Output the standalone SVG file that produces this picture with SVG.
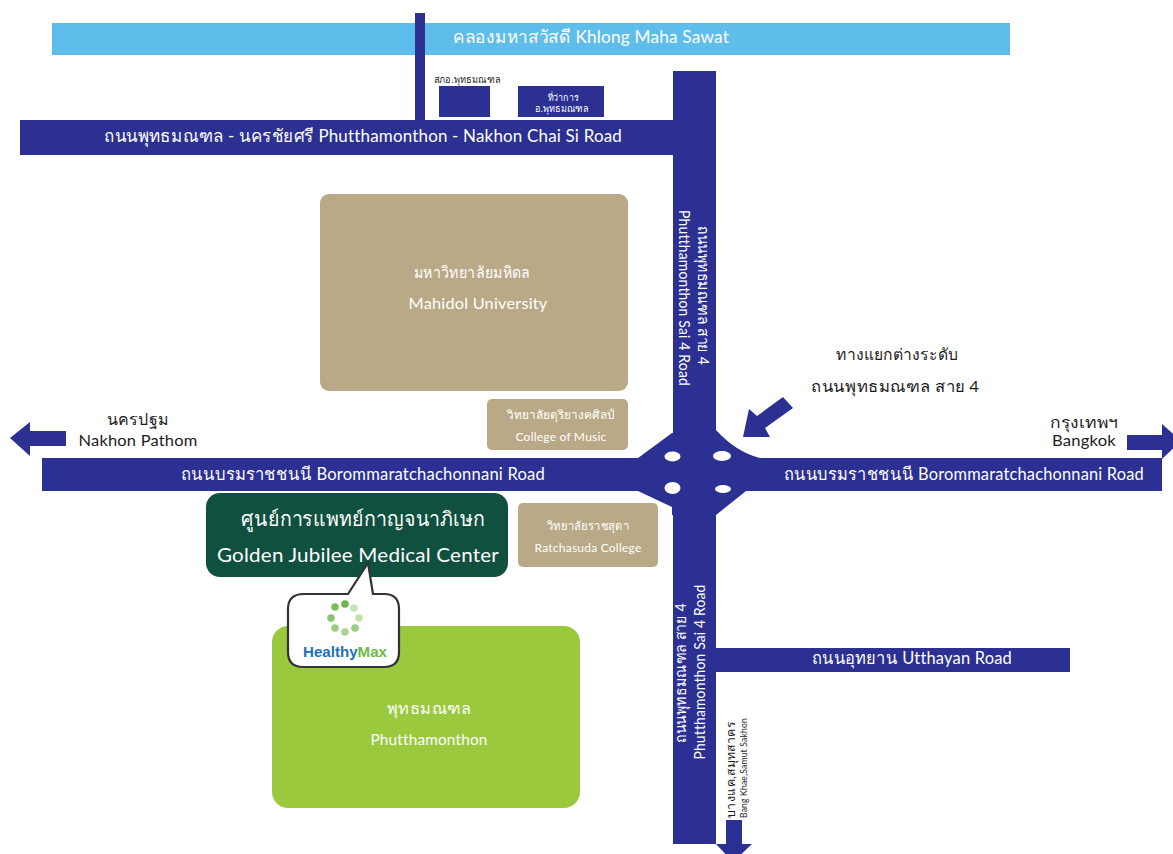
<svg xmlns="http://www.w3.org/2000/svg" width="1173" height="854" viewBox="0 0 1173 854">
<style>
text{font-family:"Lato","Noto Sans",sans-serif;text-anchor:middle;fill:#fff;letter-spacing:.2px}
.road{fill:#2b3092}
.tan{fill:#b9a986}
.k{fill:#1c1c1c}
</style>
<rect width="1173" height="854" fill="#fff"/>
<g id="canal"><rect x="52" y="23" width="958" height="32" fill="#5fbdec"/>
<text x="591" y="43" font-size="18" textLength="276" lengthAdjust="spacingAndGlyphs">คลองมหาสวัสดี Khlong Maha Sawat</text></g>
<g id="connectors">
<rect class="road" x="415" y="13" width="10" height="110"/>
<rect class="road" x="20" y="120" width="655" height="35"/>
<rect class="road" x="673" y="71" width="43" height="773"/>
<rect class="road" x="42" y="458" width="1120" height="33"/>
<rect class="road" x="716" y="648" width="354" height="24"/>
<path class="road" d="M638 458L672 433L716 430Q736 452 760 458V491H746L716 515H672V507L638 491Z"/>
<ellipse cx="672.500" cy="456.500" rx="8" ry="5" fill="#fff"/>
<ellipse cx="722" cy="456" rx="9" ry="5" fill="#fff"/>
<ellipse cx="672.500" cy="488" rx="8" ry="6" fill="#fff"/>
<ellipse cx="723" cy="489" rx="8" ry="4" fill="#fff"/>
<path class="road" d="M10 438L30 422V431H66V446H30V456Z"/>
<path class="road" d="M1127 435H1162V424L1181 441L1162 459V450H1127Z"/>
<path class="road" d="M743 437L749 409L757 416L783 397L793 408L765 428L770 437Z"/>
<path class="road" d="M726 820H742V844H752L733 862L716 844H726Z"/>
</g>
<g id="road-labels">
<text x="363" y="142" font-size="18" textLength="518" lengthAdjust="spacingAndGlyphs">ถนนพุทธมณฑล - นครชัยศรี Phutthamonthon - Nakhon Chai Si Road</text>
<text x="363" y="480" font-size="17" textLength="364" lengthAdjust="spacingAndGlyphs">ถนนบรมราชชนนี  Borommaratchachonnani Road</text>
<text x="964" y="480" font-size="17" textLength="360" lengthAdjust="spacingAndGlyphs">ถนนบรมราชชนนี Borommaratchachonnani Road</text>
<text x="912" y="664" font-size="17" textLength="200" lengthAdjust="spacingAndGlyphs">ถนนอุทยาน Utthayan Road</text>
<text transform="translate(698 295.500) rotate(90)" font-size="15" textLength="139" lengthAdjust="spacingAndGlyphs">ถนนพุทธมณฑล สาย 4</text>
<text transform="translate(679 298) rotate(90)" font-size="15" textLength="176" lengthAdjust="spacingAndGlyphs">Phutthamonthon Sai 4 Road</text>
<text transform="translate(686 673) rotate(-90)" font-size="15" textLength="140" lengthAdjust="spacingAndGlyphs">ถนนพุทธมณฑล สาย 4</text>
<text transform="translate(705 672) rotate(-90)" font-size="15" textLength="175" lengthAdjust="spacingAndGlyphs">Phutthamonthon Sai 4 Road</text>
<text class="k" transform="translate(735 770) rotate(-90)" font-size="12" textLength="96" lengthAdjust="spacingAndGlyphs">บางแค,สมุทสาคร</text>
<text class="k" transform="translate(747 768) rotate(-90)" font-size="9" textLength="100" lengthAdjust="spacingAndGlyphs">Bang Khae,Samut Sakhon</text>
</g>
<g id="sao"><rect class="road" x="439" y="86" width="51" height="31"/>
<text class="k" x="467" y="83" font-size="9.500" textLength="67" lengthAdjust="spacingAndGlyphs">สภอ.พุทธมณฑล</text></g>
<g id="district"><rect class="road" x="518" y="86" width="86" height="31"/>
<text x="563" y="101" font-size="9.500" textLength="31" lengthAdjust="spacingAndGlyphs">ที่ว่าการ</text>
<text x="562" y="112" font-size="9.500" textLength="54" lengthAdjust="spacingAndGlyphs">อ.พุทธมณฑล</text></g>
<g id="mahidol"><rect class="tan" x="320" y="194" width="308" height="197" rx="9"/>
<text x="472" y="278" font-size="16" textLength="117" lengthAdjust="spacingAndGlyphs">มหาวิทยาลัยมหิดล</text>
<text x="478" y="309" font-size="16" textLength="139" lengthAdjust="spacingAndGlyphs">Mahidol University</text></g>
<g id="music"><rect class="tan" x="487" y="399" width="141" height="51" rx="5"/>
<text x="561" y="419" font-size="12" textLength="109" lengthAdjust="spacingAndGlyphs">วิทยาลัยดุริยางคศิลป์</text>
<text x="561" y="441" font-size="12" textLength="91" lengthAdjust="spacingAndGlyphs">College of Music</text></g>
<g id="ratchasuda"><rect class="tan" x="518" y="503" width="140" height="64" rx="5"/>
<text x="588" y="530" font-size="12" textLength="83" lengthAdjust="spacingAndGlyphs">วิทยาลัยราชสุดา</text>
<text x="588" y="552" font-size="12" textLength="107" lengthAdjust="spacingAndGlyphs">Ratchasuda College</text></g>
<g id="golden-jubilee"><rect x="206" y="493" width="302" height="84" rx="14" fill="#10503f"/>
<text x="363" y="526" font-size="20" textLength="244" lengthAdjust="spacingAndGlyphs">ศูนย์การแพทย์กาญจนาภิเษก</text>
<text x="358" y="562" font-size="20" textLength="282" lengthAdjust="spacingAndGlyphs">Golden Jubilee Medical Center</text></g>
<g id="phutthamonthon"><rect x="272" y="626" width="308" height="182" rx="16" fill="#9bc93e"/>
<text x="429" y="714" font-size="16" textLength="84" lengthAdjust="spacingAndGlyphs">พุทธมณฑล</text>
<text x="429" y="745" font-size="16" textLength="117" lengthAdjust="spacingAndGlyphs">Phutthamonthon</text></g>
<g id="healthymax">
<path d="M304 594H348L368 563L373 594H384Q399 594 399 609V652Q399 667 384 667H303Q288 667 288 652V609Q288 594 304 594Z" fill="#fff" stroke="#333" stroke-width="2.200"/>
<g>
<circle cx="345" cy="604" r="3.800" fill="#6db54c"/><circle cx="335" cy="607" r="3.800" fill="#7dbd5c"/>
<circle cx="354" cy="608" r="3.800" fill="#c9e2b5"/><circle cx="331" cy="618" r="3.800" fill="#8cc56e"/>
<circle cx="359" cy="618" r="3.800" fill="#c2dfae"/><circle cx="335" cy="628" r="3.800" fill="#9ccd80"/>
<circle cx="355" cy="628" r="3.800" fill="#9ccd80"/><circle cx="345" cy="632" r="3.800" fill="#a8d390"/>
</g>
<text x="345" y="657" font-size="14.500" style="font-family:'Liberation Sans',sans-serif;font-weight:700;fill:#1c6fb8;letter-spacing:0" textLength="84" lengthAdjust="spacingAndGlyphs">Healthy<tspan style="fill:#6cbb45">Max</tspan></text>
</g>
<g id="interchange-label">
<text class="k" x="897" y="360" font-size="16" textLength="122" lengthAdjust="spacingAndGlyphs">ทางแยกต่างระดับ</text>
<text class="k" x="895" y="392" font-size="16" textLength="168" lengthAdjust="spacingAndGlyphs">ถนนพุทธมณฑล สาย 4</text></g>
<g id="nakhon-pathom">
<text class="k" x="138" y="425" font-size="16" textLength="62" lengthAdjust="spacingAndGlyphs">นครปฐม</text>
<text class="k" x="138" y="446" font-size="16" textLength="119" lengthAdjust="spacingAndGlyphs">Nakhon Pathom</text></g>
<g id="bangkok">
<text class="k" x="1084" y="428" font-size="15" textLength="68" lengthAdjust="spacingAndGlyphs">กรุงเทพฯ</text>
<text class="k" x="1084" y="446" font-size="15" textLength="64" lengthAdjust="spacingAndGlyphs">Bangkok</text></g>
</svg>
